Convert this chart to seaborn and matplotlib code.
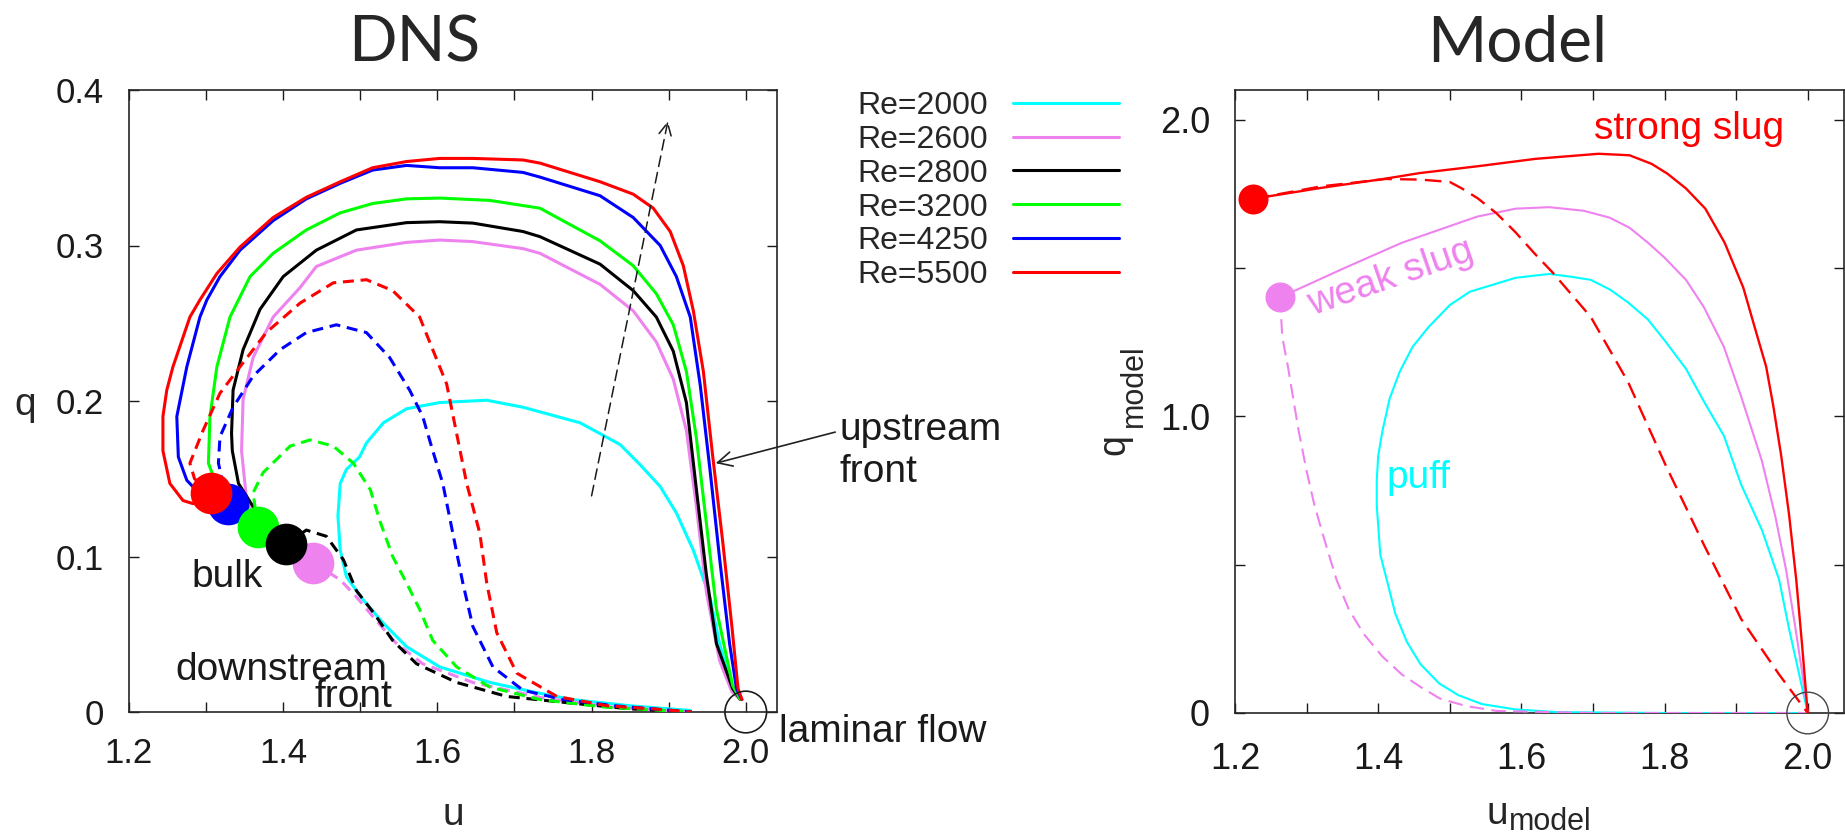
import matplotlib
matplotlib.use("Agg")
import matplotlib.pyplot as plt
import seaborn as sns

# ---------------- DNS: phase-space trajectories (u, q) ----------------
re_labels = ["Re=2000", "Re=2600", "Re=2800", "Re=3200", "Re=4250", "Re=5500"]
re_colors = ["#00ffff", "#ee82ee", "#000000", "#00ff00", "#0000ff", "#ff0000"]

# Re=2000 (puff): single closed-ish loop
u_2000 = [1.928, 1.850, 1.775, 1.733, 1.668, 1.603, 1.560, 1.530, 1.504, 1.482, 1.474,
          1.471, 1.474, 1.482, 1.499, 1.508, 1.530, 1.560, 1.603, 1.664, 1.711, 1.785,
          1.811, 1.837, 1.863, 1.889, 1.910, 1.932, 1.954, 1.966, 1.983, 1.993]
q_2000 = [0.001, 0.004, 0.008, 0.012, 0.019, 0.029, 0.042, 0.057, 0.072, 0.087, 0.104,
          0.126, 0.147, 0.156, 0.164, 0.173, 0.186, 0.195, 0.199, 0.2005, 0.196, 0.186,
          0.179, 0.172, 0.159, 0.145, 0.128, 0.104, 0.073, 0.044, 0.015, 0.008]

# upstream (solid) branches, bulk -> laminar flow
u_up_2600 = [1.439, 1.390, 1.353, 1.346, 1.348, 1.361, 1.387, 1.422, 1.443, 1.495, 1.560,
             1.603, 1.646, 1.711, 1.733, 1.811, 1.854, 1.884, 1.906, 1.923, 1.936, 1.949,
             1.966, 1.982, 1.993]
q_up_2600 = [0.096, 0.115, 0.134, 0.168, 0.201, 0.228, 0.254, 0.273, 0.2865, 0.297, 0.302,
             0.3035, 0.3025, 0.298, 0.295, 0.275, 0.258, 0.238, 0.214, 0.181, 0.132, 0.077,
             0.033, 0.013, 0.008]
u_up_2800 = [1.404, 1.370, 1.342, 1.334, 1.333, 1.335, 1.348, 1.370, 1.400, 1.443, 1.495,
             1.560, 1.603, 1.646, 1.711, 1.733, 1.811, 1.854, 1.884, 1.906, 1.923, 1.936,
             1.949, 1.962, 1.983, 1.993]
q_up_2800 = [0.108, 0.125, 0.147, 0.168, 0.179, 0.207, 0.233, 0.259, 0.280, 0.297, 0.310,
             0.3147, 0.3153, 0.3144, 0.309, 0.3057, 0.288, 0.271, 0.254, 0.232, 0.199, 0.143,
             0.088, 0.044, 0.015, 0.008]
u_up_3200 = [1.367, 1.335, 1.309, 1.303, 1.305, 1.314, 1.331, 1.357, 1.387, 1.430, 1.474,
             1.516, 1.560, 1.603, 1.668, 1.733, 1.811, 1.854, 1.884, 1.906, 1.923, 1.936,
             1.949, 1.962, 1.983, 1.993]
q_up_3200 = [0.119, 0.133, 0.152, 0.160, 0.190, 0.222, 0.254, 0.280, 0.295, 0.310, 0.321,
             0.327, 0.330, 0.3305, 0.329, 0.324, 0.303, 0.287, 0.269, 0.249, 0.219, 0.176,
             0.121, 0.066, 0.017, 0.008]
u_up_4250 = [1.328, 1.300, 1.275, 1.264, 1.262, 1.275, 1.292, 1.301, 1.318, 1.344, 1.387,
             1.430, 1.474, 1.516, 1.560, 1.603, 1.646, 1.711, 1.733, 1.811, 1.854, 1.889,
             1.910, 1.928, 1.941, 1.954, 1.966, 1.979, 1.988, 1.995]
q_up_4250 = [0.134, 0.136, 0.149, 0.164, 0.190, 0.222, 0.254, 0.265, 0.280, 0.297, 0.316,
             0.330, 0.340, 0.3485, 0.3515, 0.350, 0.350, 0.347, 0.344, 0.332, 0.318, 0.300,
             0.280, 0.254, 0.210, 0.154, 0.099, 0.044, 0.015, 0.008]
u_up_5500 = [1.306, 1.283, 1.270, 1.253, 1.244, 1.244, 1.249, 1.257, 1.279, 1.292, 1.314,
             1.344, 1.387, 1.430, 1.474, 1.516, 1.560, 1.603, 1.646, 1.711, 1.733, 1.811,
             1.854, 1.880, 1.902, 1.919, 1.932, 1.945, 1.957, 1.970, 1.982, 1.990, 1.995]
q_up_5500 = [0.141, 0.134, 0.136, 0.147, 0.168, 0.190, 0.207, 0.222, 0.254, 0.265, 0.282,
             0.299, 0.318, 0.331, 0.341, 0.350, 0.354, 0.356, 0.356, 0.355, 0.353, 0.341,
             0.333, 0.324, 0.309, 0.287, 0.258, 0.219, 0.165, 0.110, 0.055, 0.015, 0.008]

# downstream (dashed) branches, bulk -> downstream front
u_dn_2600 = [1.439, 1.474, 1.495, 1.517, 1.545, 1.581, 1.646, 1.737, 1.830, 1.930]
q_dn_2600 = [0.096, 0.085, 0.074, 0.061, 0.045, 0.031, 0.019, 0.009, 0.003, 0.000]
u_dn_2800 = [1.404, 1.430, 1.456, 1.478, 1.495, 1.517, 1.542, 1.573, 1.625, 1.690, 1.768,
             1.850, 1.930]
q_dn_2800 = [0.108, 0.117, 0.113, 0.098, 0.078, 0.064, 0.046, 0.031, 0.019, 0.010, 0.006,
             0.002, 0.000]
u_dn_3200 = [1.367, 1.361, 1.374, 1.409, 1.435, 1.465, 1.491, 1.513, 1.526, 1.542, 1.560,
             1.577, 1.594, 1.625, 1.668, 1.733, 1.820, 1.930]
q_dn_3200 = [0.119, 0.141, 0.154, 0.171, 0.175, 0.171, 0.160, 0.143, 0.122, 0.100, 0.083,
             0.066, 0.046, 0.029, 0.016, 0.008, 0.003, 0.000]
u_dn_4250 = [1.328, 1.316, 1.318, 1.335, 1.361, 1.396, 1.430, 1.469, 1.508, 1.538, 1.564,
             1.581, 1.594, 1.607, 1.620, 1.633, 1.646, 1.672, 1.711, 1.763, 1.830, 1.880,
             1.930]
q_dn_4250 = [0.134, 0.160, 0.177, 0.196, 0.216, 0.233, 0.244, 0.249, 0.244, 0.228, 0.207,
             0.190, 0.168, 0.147, 0.115, 0.083, 0.055, 0.029, 0.014, 0.008, 0.004, 0.002,
             0.000]
u_dn_5500 = [1.306, 1.285, 1.279, 1.296, 1.318, 1.344, 1.378, 1.422, 1.465, 1.508, 1.542,
             1.577, 1.594, 1.612, 1.625, 1.638, 1.655, 1.664, 1.677, 1.703, 1.755, 1.820,
             1.880, 1.930]
q_dn_5500 = [0.141, 0.150, 0.160, 0.181, 0.205, 0.222, 0.244, 0.263, 0.276, 0.278, 0.271,
             0.254, 0.233, 0.211, 0.179, 0.147, 0.115, 0.083, 0.051, 0.025, 0.010, 0.004,
             0.002, 0.000]

# bulk states (Re=2600 ... 5500)
bulk_u = [1.439, 1.404, 1.367, 1.328, 1.306]
bulk_q = [0.096, 0.108, 0.119, 0.134, 0.141]

# ---------------- Model ----------------
u_strong = [1.225, 1.320, 1.407, 1.458, 1.539, 1.620, 1.708, 1.751, 1.782, 1.804, 1.830,
            1.857, 1.884, 1.910, 1.926, 1.942, 1.952, 1.963, 1.974, 1.984, 1.992, 2.000]
q_strong = [1.733, 1.770, 1.800, 1.820, 1.843, 1.868, 1.885, 1.880, 1.851, 1.818, 1.768,
            1.700, 1.585, 1.434, 1.300, 1.167, 1.034, 0.867, 0.668, 0.449, 0.233, 0.000]
u_strong_dn = [1.225, 1.320, 1.410, 1.459, 1.500, 1.517, 1.539, 1.565, 1.592, 1.618, 1.644,
               1.697, 1.749, 1.802, 1.855, 1.907, 1.960, 2.000]
q_strong_dn = [1.733, 1.775, 1.800, 1.798, 1.790, 1.768, 1.735, 1.685, 1.620, 1.550, 1.484,
               1.335, 1.116, 0.833, 0.567, 0.317, 0.130, 0.000]
u_weak = [1.263, 1.353, 1.433, 1.538, 1.592, 1.639, 1.687, 1.723, 1.751, 1.777, 1.800,
          1.830, 1.855, 1.883, 1.907, 1.936, 1.955, 1.970, 1.982, 1.992, 2.000]
q_weak = [1.401, 1.500, 1.585, 1.673, 1.700, 1.705, 1.693, 1.670, 1.636, 1.585, 1.535,
          1.460, 1.368, 1.234, 1.067, 0.850, 0.660, 0.480, 0.300, 0.140, 0.000]
u_weak_dn = [1.263, 1.266, 1.274, 1.282, 1.289, 1.300, 1.311, 1.327, 1.342, 1.359, 1.380,
             1.406, 1.433, 1.459, 1.486, 1.522, 1.565, 1.700, 2.000]
q_weak_dn = [1.401, 1.268, 1.167, 1.050, 0.950, 0.816, 0.700, 0.567, 0.448, 0.349, 0.266,
             0.190, 0.130, 0.088, 0.049, 0.024, 0.007, 0.000, 0.000]
u_puff = [2.000, 1.974, 1.960, 1.936, 1.907, 1.883, 1.855, 1.830, 1.802, 1.777, 1.749,
          1.724, 1.697, 1.671, 1.639, 1.592, 1.528, 1.500, 1.470, 1.448, 1.430, 1.416,
          1.406, 1.400, 1.398, 1.398, 1.403, 1.412, 1.424, 1.440, 1.459, 1.485, 1.512,
          1.545, 1.592, 1.650, 1.800, 2.000]
q_puff = [0.000, 0.283, 0.450, 0.617, 0.770, 0.934, 1.050, 1.160, 1.250, 1.326, 1.384,
          1.427, 1.460, 1.470, 1.480, 1.467, 1.420, 1.375, 1.300, 1.234, 1.150, 1.060,
          0.951, 0.867, 0.783, 0.700, 0.533, 0.449, 0.334, 0.240, 0.165, 0.100, 0.060,
          0.030, 0.012, 0.003, 0.000, 0.000]
model_dot_u = [1.225, 1.263]
model_dot_q = [1.733, 1.401]

# tick labels
dns_xticks = [1.2, 1.3, 1.4, 1.5, 1.6, 1.7, 1.8, 1.9, 2.0]
dns_xticklabels = ["1.2", "", "1.4", "", "1.6", "", "1.8", "", "2.0"]
dns_yticks = [0.0, 0.1, 0.2, 0.3, 0.4]
dns_yticklabels = ["0", "0.1", "0.2", "0.3", "0.4"]
model_yticks = [0.0, 0.5, 1.0, 1.5, 2.0]
model_yticklabels = ["0", "", "1.0", "", "2.0"]

# ---------------- figure ----------------
sns.set_theme(style="ticks")
plt.rcParams["font.family"] = ["Liberation Sans", "DejaVu Sans"]
plt.rcParams["axes.linewidth"] = 1.2

W, H = 1845, 836
fig = plt.figure(figsize=(W / 100, H / 100), dpi=100)


def fx(px):
    return px / W


def fy(py):
    return 1 - py / H


ax1 = fig.add_axes([fx(129), fy(712), (776.6 - 129) / W, (712 - 90) / H])
ax2 = fig.add_axes([fx(1235), fy(713), (1843.5 - 1235) / W, (713 - 90) / H])

LW = 2.2
dash_l = (0, (3.6, 2.2))

up_u = [u_up_2600, u_up_2800, u_up_3200, u_up_4250, u_up_5500]
up_q = [q_up_2600, q_up_2800, q_up_3200, q_up_4250, q_up_5500]
dn_u = [u_dn_2600, u_dn_2800, u_dn_3200, u_dn_4250, u_dn_5500]
dn_q = [q_dn_2600, q_dn_2800, q_dn_3200, q_dn_4250, q_dn_5500]

handles = []
sns.lineplot(x=u_2000, y=q_2000, sort=False, estimator=None, color=re_colors[0],
             lw=LW, ax=ax1, zorder=3)
handles.append(ax1.lines[-1])
for i in range(5):
    c = re_colors[i + 1]
    sns.lineplot(x=up_u[i], y=up_q[i], sort=False, estimator=None, color=c,
                 lw=LW, ax=ax1, zorder=3)
    handles.append(ax1.lines[-1])
    sns.lineplot(x=dn_u[i], y=dn_q[i], sort=False, estimator=None, color=c,
                 lw=LW, linestyle=dash_l, ax=ax1, zorder=3)

# bulk markers, drawn so the higher-Re disc sits on top
for i in [0, 3, 2, 1, 4]:
    ax1.scatter(bulk_u[i], bulk_q[i], s=30 ** 2, color=re_colors[i + 1], lw=0, zorder=6)

# laminar flow
ax1.scatter([2.0], [0.0], s=30 ** 2, facecolors="none", edgecolors="k", lw=1.2,
            zorder=7, clip_on=False)

ax1.set_xlim(1.2, 2.04)
ax1.set_ylim(0, 0.4)
ax1.set_xticks(dns_xticks)
ax1.set_xticklabels(dns_xticklabels)
ax1.set_yticks(dns_yticks)
ax1.set_yticklabels(dns_yticklabels)
ax1.tick_params(which="both", direction="in", top=True, right=True, length=7,
                width=1, labelsize=25, pad=18, color="k", labelcolor="k")
ax1.set_xlabel("")
ax1.set_ylabel("")

# legend
leg = fig.legend(handles, re_labels, loc="upper left",
                 bbox_to_anchor=(fx(857), fy(91)), frameon=False, markerfirst=False,
                 handlelength=3.3, handletextpad=0.8, labelspacing=0.12,
                 borderpad=0, borderaxespad=0,
                 prop={"family": "Liberation Sans", "size": 23})

# annotations on DNS panel
txt = dict(fontsize=28, color="k", family="Liberation Sans")
ax1.text(1.3267, 0.0806, "bulk", ha="center", va="baseline", **txt)
ax1.text(1.397, 0.0206, "downstream", ha="center", va="baseline", **txt)
ax1.text(1.491, 0.0034, "front", ha="center", va="baseline", **txt)
ax1.text(2.043, -0.0193, "laminar flow", ha="left", va="baseline", clip_on=False, **txt)
ax1.text(2.121, 0.175, "upstream", ha="left", va="baseline", clip_on=False, **txt)
ax1.text(2.121, 0.148, "front", ha="left", va="baseline", clip_on=False, **txt)
ax1.annotate("", xy=(1.961, 0.160), xytext=(2.116, 0.180), annotation_clip=False,
             arrowprops=dict(arrowstyle="->", lw=1.2, color="#222222",
                             shrinkA=0, shrinkB=0, mutation_scale=26))
ax1.annotate("", xy=(1.899, 0.380), xytext=(1.800, 0.139), annotation_clip=False,
             arrowprops=dict(arrowstyle="->", lw=1.1, color="k", linestyle=(0, (7, 4)),
                             shrinkA=0, shrinkB=0, mutation_scale=22))

# ---------------- Model panel ----------------
sns.lineplot(x=u_puff, y=q_puff, sort=False, estimator=None, color="#00ffff", lw=1.5,
             ax=ax2, zorder=3)
sns.lineplot(x=u_weak, y=q_weak, sort=False, estimator=None, color="#ee82ee", lw=1.5,
             ax=ax2, zorder=3)
sns.lineplot(x=u_weak_dn, y=q_weak_dn, sort=False, estimator=None, color="#ee82ee", lw=1.5,
             linestyle=(0, (7, 3.5)), ax=ax2, zorder=3)
sns.lineplot(x=u_strong_dn, y=q_strong_dn, sort=False, estimator=None, color="#ff0000",
             lw=1.7, linestyle=(0, (7, 3.5)), ax=ax2, zorder=3)
sns.lineplot(x=u_strong, y=q_strong, sort=False, estimator=None, color="#ff0000", lw=1.7,
             ax=ax2, zorder=4)
ax2.scatter(model_dot_u[0], model_dot_q[0], s=21.6 ** 2, color="#ff0000", lw=0, zorder=6)
ax2.scatter(model_dot_u[1], model_dot_q[1], s=21.6 ** 2, color="#ee82ee", lw=0, zorder=6)
ax2.scatter([2.0], [0.0], s=30 ** 2, facecolors="none", edgecolors="#444444", lw=1.0,
            zorder=7, clip_on=False)

ax2.set_xlim(1.2, 2.05)
ax2.set_ylim(0, 2.1)
ax2.set_xticks(dns_xticks)
ax2.set_xticklabels(dns_xticklabels)
ax2.set_yticks(model_yticks)
ax2.set_yticklabels(model_yticklabels)
ax2.tick_params(which="both", direction="in", top=True, right=True, length=7,
                width=1, labelsize=26, color="k", labelcolor="k")
ax2.tick_params(axis="x", pad=21)
ax2.tick_params(axis="y", pad=18)
ax2.set_xlabel("")
ax2.set_ylabel("")

mtxt = dict(fontsize=28, family="Liberation Sans")
ax2.text(1.834, 1.936, "strong slug", color="#ff0000", ha="center", va="baseline", **mtxt)
ax2.text(1.418, 1.467, "weak slug", color="#ee82ee", ha="center", va="center",
         rotation=19, rotation_mode="anchor", **mtxt)
ax2.text(1.457, 0.759, "puff", color="#00ffff", ha="center", va="baseline", **mtxt)

# ---------------- titles and axis labels ----------------
fig.text(fx(414), fy(62), "DNS", ha="center", va="baseline", fontsize=46, family="Lato")
fig.text(fx(1517), fy(62), "Model", ha="center", va="baseline", fontsize=46, family="Lato")

fig.text(fx(25), fy(415), "q", ha="center", va="baseline", fontsize=28)
fig.text(fx(453), fy(825), "u", ha="center", va="baseline", fontsize=28)

fig.text(fx(1497), fy(824), "u", ha="center", va="baseline", fontsize=28)
fig.text(fx(1550), fy(830), "model", ha="center", va="baseline", fontsize=22)
fig.text(fx(1124), fy(455), "q", ha="left", va="baseline", rotation=90,
         rotation_mode="anchor", fontsize=27)
fig.text(fx(1142), fy(427), "model", ha="left", va="baseline", rotation=90,
         rotation_mode="anchor", fontsize=22)

fig.savefig("out.png", dpi=100)
